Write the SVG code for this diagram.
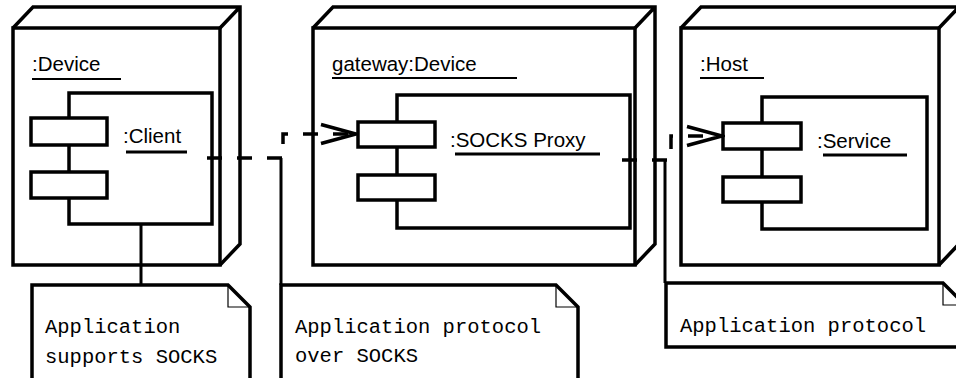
<svg xmlns="http://www.w3.org/2000/svg" width="956" height="378" viewBox="0 0 956 378">
<style>
  .box { fill: none; stroke: #000; stroke-width: 3.5; stroke-linejoin: miter; }
  .wbox { fill: #fff; stroke: #000; stroke-width: 3.5; }
  .ear { fill: none; stroke: #000; stroke-width: 1.2; }
  .ul1 { stroke: #000; stroke-width: 2; }
  .ul2 { stroke: #000; stroke-width: 3; }
  .lbl { font-family: "Liberation Sans", Arial, sans-serif; font-size: 20.5px; fill: #000; }
  .mono { font-family: "Liberation Mono", "Courier New", monospace; font-size: 20.5px; fill: #000; }
  .dep { fill: none; stroke: #000; stroke-width: 3.5; stroke-dasharray: 15 15; }
  .anchor { fill: none; stroke: #000; stroke-width: 3; }
</style>
<defs>
  <marker id="open" markerUnits="userSpaceOnUse" viewBox="0 0 40 24" markerWidth="40" markerHeight="24" refX="37" refY="12" orient="auto">
    <path d="M2,2.5 L37,12 L2,21.5" fill="none" stroke="#000" stroke-width="3.5" stroke-dasharray="none"/>
  </marker>
</defs>
<rect width="956" height="378" fill="#fff"/>

<g id="node-device">
  <rect class="box" x="13" y="28" width="207" height="237"/>
  <path class="box" d="M13,28 L33,7 H240 V244 L220,265 M220,28 L240,7"/>
  <text class="lbl" x="32" y="71">:Device</text>
  <line class="ul1" x1="32" y1="79" x2="121" y2="79"/>
</g>
<g id="comp-client">
  <rect class="box" x="69" y="93" width="143" height="131"/>
  <rect class="wbox" x="31" y="118" width="76" height="27"/>
  <rect class="wbox" x="31" y="172" width="76" height="26"/>
  <text class="lbl" x="123" y="143">:Client</text>
  <line class="ul2" x1="126" y1="152" x2="187" y2="152"/>
</g>

<g id="node-gateway">
  <rect class="box" x="313" y="28" width="322" height="237"/>
  <path class="box" d="M313,28 L333,7 H655 V244 L635,265 M635,28 L655,7"/>
  <text class="lbl" x="332" y="71">gateway:Device</text>
  <line class="ul1" x1="332" y1="78" x2="517" y2="78"/>
</g>
<g id="comp-proxy">
  <rect class="box" x="397" y="95" width="233" height="133"/>
  <rect class="wbox" x="358" y="122" width="77" height="25"/>
  <rect class="wbox" x="358" y="175" width="77" height="25"/>
  <text class="lbl" x="450" y="147">:SOCKS Proxy</text>
  <line class="ul2" x1="455" y1="154" x2="600" y2="154"/>
</g>

<g id="node-host">
  <rect class="box" x="681" y="28" width="258" height="237"/>
  <path class="box" d="M681,28 L701,7 H959 V244 L939,265 M939,28 L959,7"/>
  <text class="lbl" x="700" y="71">:Host</text>
  <line class="ul1" x1="700" y1="78" x2="764" y2="78"/>
</g>
<g id="comp-service">
  <rect class="box" x="762" y="97" width="165" height="132"/>
  <rect class="wbox" x="723" y="123" width="78" height="26"/>
  <rect class="wbox" x="723" y="177" width="78" height="25"/>
  <text class="lbl" x="817" y="148">:Service</text>
  <line class="ul2" x1="823" y1="155" x2="907" y2="155"/>
</g>

<g id="connectors">
  <path class="dep" d="M207,158 H283 V134 H356" marker-end="url(#open)"/>
  <path class="dep" d="M622,160 H671 V136 H722" marker-end="url(#open)"/>
  <path class="anchor" d="M141,224 V285"/>
  <path class="anchor" d="M281,158 V285"/>
  <path class="anchor" d="M665,160 V283"/>
</g>

<g id="note-client">
  <path class="wbox" d="M32,285 H228 L250,307 V395 H32 Z"/>
  <path class="ear" d="M228,285 V307 H250"/>
  <text class="mono" x="45" y="333">Application</text>
  <text class="mono" x="45" y="363">supports SOCKS</text>
</g>
<g id="note-socks">
  <path class="wbox" d="M281,285 H556 L578,307 V395 H281 Z"/>
  <path class="ear" d="M556,285 V307 H578"/>
  <text class="mono" x="295" y="333">Application protocol</text>
  <text class="mono" x="295" y="362">over SOCKS</text>
</g>
<g id="note-app">
  <path class="wbox" d="M666,283 H943 L965,305 V347 H666 Z"/>
  <path class="ear" d="M943,283 V305 H965"/>
  <text class="mono" x="680" y="332">Application protocol</text>
</g>
</svg>
